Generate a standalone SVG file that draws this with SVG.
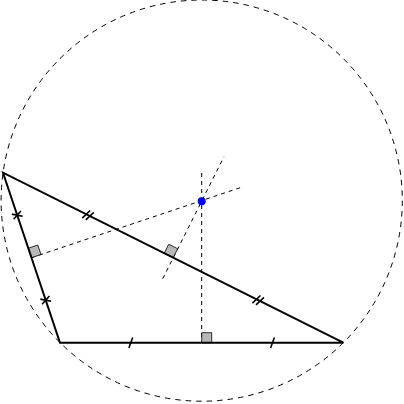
<svg xmlns="http://www.w3.org/2000/svg" width="404" height="404" viewBox="0 0 404 404">
<style>
.circ{fill:none;stroke:#000;stroke-width:1;stroke-dasharray:5.5 5}
.bis{fill:none;stroke:#000;stroke-width:1;stroke-dasharray:4 4}
.sq{fill:#b8b8b8;stroke:#000;stroke-width:0.8}
.tri{fill:none;stroke:#000;stroke-width:2;stroke-linejoin:miter}
.tick{stroke:#000;stroke-width:1.6;fill:none}
</style>
<rect width="404" height="404" fill="#fff"/>
<g id="circumcircle">
<circle class="circ" cx="201.7" cy="200.6" r="200.6"/>
</g>
<g id="connectors">
<line class="bis" x1="201.7" y1="173" x2="201.7" y2="342.7"/>
<line class="bis" x1="31.5" y1="257.7" x2="241.7" y2="187.2"/>
<line class="bis" x1="162.7" y1="278.7" x2="224" y2="156.7"/>
</g>
<g id="right-angles">
<polygon class="sq" points="201.7,342.7 211.7,342.7 211.7,332.7 201.7,332.7"/>
<polygon class="sq" points="31.5,257.7 28.3,248.2 37.8,245.0 41.0,254.5"/>
<polygon class="sq" points="173.2,257.7 164.2,253.2 168.7,244.3 177.7,248.7"/>
</g>
<g id="triangle">
<polygon class="tri" points="3,172.7 60,342.7 343.3,342.7"/>
</g>
<g id="ticks">
<line class="tick" x1="128.9" y1="347.9" x2="132.7" y2="337.5"/>
<line class="tick" x1="270.6" y1="347.9" x2="274.4" y2="337.5"/>
<line class="tick" x1="82.22" y1="218.09" x2="90.20" y2="210.53"/>
<line class="tick" x1="85.80" y1="219.87" x2="93.78" y2="212.31"/>
<line class="tick" x1="252.42" y1="303.09" x2="260.40" y2="295.53"/>
<line class="tick" x1="256.00" y1="304.87" x2="263.98" y2="297.31"/>
<line class="tick" x1="11.86" y1="214.1" x2="22.64" y2="216.3"/>
<line class="tick" x1="13.61" y1="219.32" x2="20.89" y2="211.08"/>
<line class="tick" x1="40.36" y1="299.1" x2="51.14" y2="301.3"/>
<line class="tick" x1="42.11" y1="304.32" x2="49.39" y2="296.08"/>
</g>
<g id="circumcenter">
<circle cx="201.7" cy="201.2" r="4" fill="#0000ff"/>
</g>
</svg>
